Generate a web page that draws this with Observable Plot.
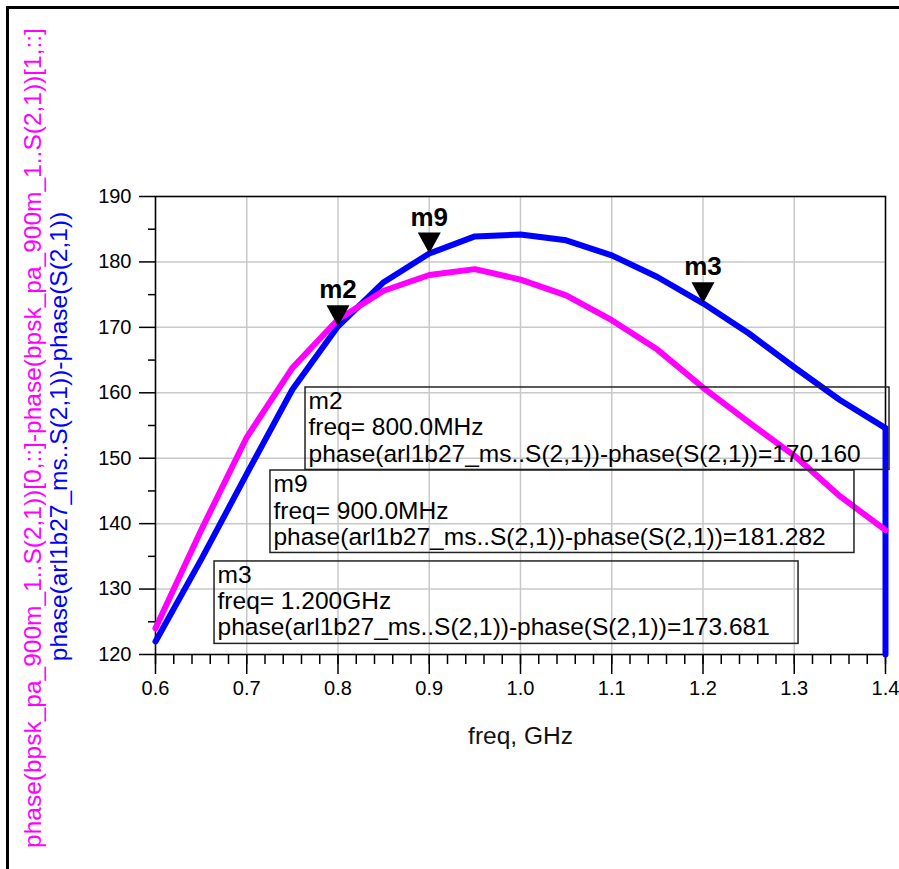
<!DOCTYPE html>
<html>
<head>
<meta charset="utf-8">
<script src="https://cdn.jsdelivr.net/npm/d3@7"></script>
<script src="https://cdn.jsdelivr.net/npm/@observablehq/plot@0.6"></script>
<style>
  html, body { margin: 0; padding: 0; background: #fff; overflow: hidden; }
  #chart { position: relative; width: 899px; height: 869px; }
  #chart svg { position: absolute; left: 0; top: 0; }
  #border { position: absolute; left: 6px; top: 6px; right: 0; bottom: 0;
            border-top: 3px solid #000; border-left: 3px solid #000; pointer-events: none; }
</style>
</head>
<body>
<div id="chart"><div id="border"></div></div>
<script>
// ---- data ----
const freq = [0.60, 0.65, 0.70, 0.75, 0.80, 0.85, 0.90, 0.95, 1.00, 1.05, 1.10, 1.15, 1.20, 1.25, 1.30, 1.35, 1.40];
const blueVals = [122.0, 134.5, 147.6, 160.5, 170.16, 176.9, 181.28, 183.9, 184.2, 183.3, 181.0, 177.7, 173.68, 169.1, 163.9, 158.9, 154.6];
const blueWrapFreq = 1.40;   // last sample wraps (drops off the bottom of the plot)
const blueWrapVal = 120.0;
const pinkVals = [124.0, 139.0, 153.2, 163.8, 171.2, 175.6, 178.0, 178.9, 177.3, 174.9, 171.1, 166.6, 160.8, 155.5, 150.4, 144.2, 139.0];

const markerNames = ["m2", "m9", "m3"];
const markerFreq = [0.8, 0.9, 1.2];
const markerVals = [170.160, 181.282, 173.681];
const markerFreqLabels = ["800.0MHz", "900.0MHz", "1.200GHz"];

const xTicks = [0.6, 0.7, 0.8, 0.9, 1.0, 1.1, 1.2, 1.3, 1.4];
const yTicks = [120, 130, 140, 150, 160, 170, 180, 190];
const xMinorTicks = d3.range(0, 41).map(i => 0.6 + i * 0.02);
const yMinorTicks = [125, 135, 145, 155, 165, 175, 185];

const xLabel = "freq, GHz";
const pinkLabel = "phase(bpsk_pa_900m_1..S(2,1))[0,::]-phase(bpsk_pa_900m_1..S(2,1))[1,::]";
const blueLabel = "phase(arl1b27_ms..S(2,1))-phase(S(2,1))";
const readoutExpr = "phase(arl1b27_ms..S(2,1))-phase(S(2,1))";

// readout box placement (top-left corner, in data units) — layout, not data
const readoutLayout = [
  {x: 0.7644, y: 160.81},
  {x: 0.7260, y: 148.12},
  {x: 0.6647, y: 134.22}
];
const boxW = 0.64, boxH = 12.6;

// ---- tables ----
const blue = freq.map((f, i) => ({f, v: blueVals[i]})).concat([{f: blueWrapFreq, v: blueWrapVal}]);
const pink = freq.map((f, i) => ({f, v: pinkVals[i]}));
const markers = markerNames.map((name, i) => ({
  name, f: markerFreq[i], v: markerVals[i],
  bx: readoutLayout[i].x, by: readoutLayout[i].y,
  text: `${name}\nfreq= ${markerFreqLabels[i]}\n${readoutExpr}=${markerVals[i].toFixed(3)}`
}));

const downTriangle = {
  draw(context) {
    context.moveTo(0, 0);
    context.lineTo(-11.5, -21);
    context.lineTo(11.5, -21);
    context.closePath();
  }
};

const font = "'Liberation Sans', Arial, Helvetica, sans-serif";

const chart = Plot.plot({
  width: 899,
  height: 869,
  marginLeft: 155,
  marginRight: 14,
  marginTop: 196,
  marginBottom: 215,
  style: {fontFamily: font, fontSize: "20px", color: "#000", background: "#fff", overflow: "visible"},
  x: {domain: [0.6, 1.4]},
  y: {domain: [120, 190]},
  marks: [
    Plot.gridX(xTicks, {stroke: "#c8c8c8", strokeOpacity: 1, strokeWidth: 1.5}),
    Plot.gridY(yTicks, {stroke: "#c8c8c8", strokeOpacity: 1, strokeWidth: 1.5}),
    Plot.frame({stroke: "#000", strokeWidth: 1.5}),
    Plot.axisX({ticks: xTicks, tickSize: 20, tickPadding: 6, tickFormat: d3.format(".1f"), fontSize: 20, label: null, strokeWidth: 1.5}),
    Plot.axisX({ticks: xMinorTicks, tickSize: 10, text: null, label: null, strokeWidth: 1.5}),
    Plot.axisY({ticks: yTicks, tickSize: 16, tickPadding: 8, fontSize: 20, label: null, strokeWidth: 1.5}),
    Plot.axisY({ticks: yMinorTicks, tickSize: 7, text: null, label: null, strokeWidth: 1.5}),
    Plot.text([xLabel], {frameAnchor: "bottom", dy: 72, textAnchor: "middle", lineAnchor: "top", fontSize: 24.5, fill: "#111"}),
    Plot.text([pinkLabel], {frameAnchor: "left", rotate: -90, dx: -122.5, dy: 12.5, textAnchor: "middle", lineAnchor: "middle", fontSize: 24.5, fill: "#ff00ff"}),
    Plot.text([blueLabel], {frameAnchor: "left", rotate: -90, dx: -96, dy: 11, textAnchor: "middle", lineAnchor: "middle", fontSize: 24.5, fill: "#0000ff"}),
    Plot.line(blue, {x: "f", y: "v", stroke: "#0000ff", strokeWidth: 6}),
    Plot.line(pink, {x: "f", y: "v", stroke: "#ff00ff", strokeWidth: 6}),
    Plot.dot(markers, {x: "f", y: "v", symbol: downTriangle, fill: "#000", stroke: null}),
    Plot.text(markers, {x: "f", y: "v", text: "name", dy: -28, textAnchor: "middle", lineAnchor: "bottom", fontSize: 26, fontWeight: "bold", fill: "#000"}),
    Plot.rect(markers, {x1: "bx", x2: d => d.bx + boxW, y1: "by", y2: d => d.by - boxH, fill: "none", stroke: "#222", strokeWidth: 1.5}),
    Plot.text(markers, {x: "bx", y: "by", text: "text", dx: 3, dy: 3.5, textAnchor: "start", lineAnchor: "top", lineHeight: 1.0625, fontSize: 24.5, fill: "#000"})
  ]
});

document.getElementById("chart").insertBefore(chart, document.getElementById("border"));
</script>
</body>
</html>
